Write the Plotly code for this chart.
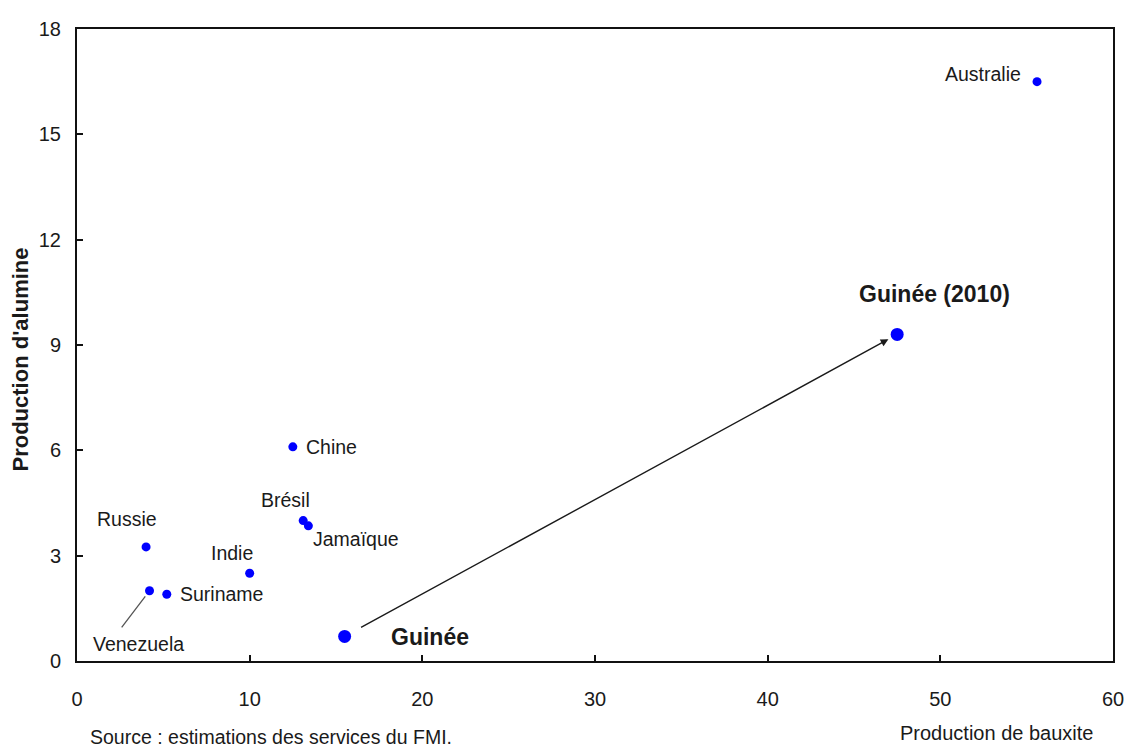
import plotly.graph_objects as go

# ---- data ----
countries = ["Australie", "Guinée (2010)", "Guinée", "Chine", "Brésil",
             "Jamaïque", "Russie", "Indie", "Suriname", "Venezuela"]
bauxite = [55.6, 47.5, 15.5, 12.5, 13.1, 13.4, 4.0, 10.0, 5.2, 4.2]
alumina = [16.5, 9.3, 0.7, 6.1, 4.0, 3.85, 3.25, 2.5, 1.9, 2.0]
x_ticks = [0, 10, 20, 30, 40, 50, 60]
y_ticks = [0, 3, 6, 9, 12, 15, 18]

# ---- label styling (pixel offsets relative to each point) ----
LS = 19.5
label_style = {
    "Australie":     dict(xanchor="right",  xshift=-14, yshift=8,   size=LS, bold=False),
    "Guinée (2010)": dict(xanchor="center", xshift=37,  yshift=40,  size=23, bold=True),
    "Guinée":        dict(xanchor="left",   xshift=44,  yshift=-1,  size=23, bold=True),
    "Chine":         dict(xanchor="left",   xshift=11,  yshift=0,   size=LS, bold=False),
    "Brésil":        dict(xanchor="center", xshift=-18, yshift=21,  size=LS, bold=False),
    "Jamaïque":      dict(xanchor="left",   xshift=3,   yshift=-13, size=LS, bold=False),
    "Russie":        dict(xanchor="center", xshift=-19, yshift=28,  size=LS, bold=False),
    "Indie":         dict(xanchor="center", xshift=-18, yshift=20,  size=LS, bold=False),
    "Suriname":      dict(xanchor="left",   xshift=11,  yshift=0,   size=LS, bold=False),
    "Venezuela":     dict(xanchor="center", xshift=-11, yshift=-53, size=LS, bold=False),
}
big = {"Guinée (2010)", "Guinée"}
FONT = "Liberation Sans, Arial, sans-serif"
TXT = "#1a1a1a"

fig = go.Figure()
fig.add_trace(go.Scatter(
    x=bauxite, y=alumina, mode="markers",
    marker=dict(color="#0000ff", opacity=1,
                size=[13 if c in big else 9 for c in countries],
                line=dict(width=0)),
    hoverinfo="text", text=countries, showlegend=False,
))

for c, xv, yv in zip(countries, bauxite, alumina):
    s = label_style[c]
    txt = f"<b>{c}</b>" if s["bold"] else c
    fig.add_annotation(x=xv, y=yv, text=txt, showarrow=False,
                       xanchor=s["xanchor"], yanchor="middle",
                       xshift=s["xshift"], yshift=s["yshift"],
                       font=dict(family=FONT, size=s["size"], color=TXT))

# arrow Guinée -> Guinée (2010)
gi, g2 = countries.index("Guinée"), countries.index("Guinée (2010)")
fig.add_annotation(x=bauxite[g2], y=alumina[g2], ax=bauxite[gi], ay=alumina[gi],
                   xref="x", yref="y", axref="x", ayref="y", text="",
                   showarrow=True, arrowhead=2, arrowsize=1.1, arrowwidth=1.4,
                   arrowcolor="#1a1a1a", standoff=10, startstandoff=17)

# Venezuela leader line
vi = countries.index("Venezuela")
fig.add_annotation(x=bauxite[vi], y=alumina[vi], ax=-29, ay=38, text="",
                   showarrow=True, arrowhead=0, arrowwidth=1.3,
                   arrowcolor="#555555", standoff=7)

# axis titles & source (paper coords; plot area is 1040 x 643 px)
fig.add_annotation(xref="paper", yref="paper", x=0.8875, y=-0.114,
                   text="Production de bauxite", showarrow=False,
                   xanchor="center", yanchor="middle",
                   font=dict(family=FONT, size=20, color=TXT))
fig.add_annotation(xref="paper", yref="paper", x=-0.0548, y=0.4774,
                   text="<b>Production d'alumine</b>", showarrow=False,
                   textangle=-90, xanchor="center", yanchor="middle",
                   font=dict(family=FONT, size=22, color=TXT))
fig.add_annotation(xref="paper", yref="paper", x=0.0106, y=-0.12,
                   text="Source : estimations des services du FMI.", showarrow=False,
                   xanchor="left", yanchor="middle",
                   font=dict(family=FONT, size=19.5, color=TXT))

axis_common = dict(showgrid=False, zeroline=False, showline=True, linecolor="#111111",
                   linewidth=2, mirror=True, ticks="inside", ticklen=6, tickwidth=2,
                   tickcolor="#111111",
                   tickfont=dict(family=FONT, size=20, color=TXT))
fig.update_xaxes(range=[0, 60], tickvals=x_ticks, ticklabelstandoff=19, **axis_common)
fig.update_yaxes(range=[0, 18], tickvals=y_ticks, ticklabelstandoff=10, **axis_common)

# page body has an 8px margin: size the figure so it fits the 1134x751 window
fig.update_layout(width=1126, height=743, margin=dict(l=69, r=17, t=10, b=90),
                  plot_bgcolor="white", paper_bgcolor="white",
                  font=dict(family=FONT, color=TXT))
fig.write_html("out.html")
